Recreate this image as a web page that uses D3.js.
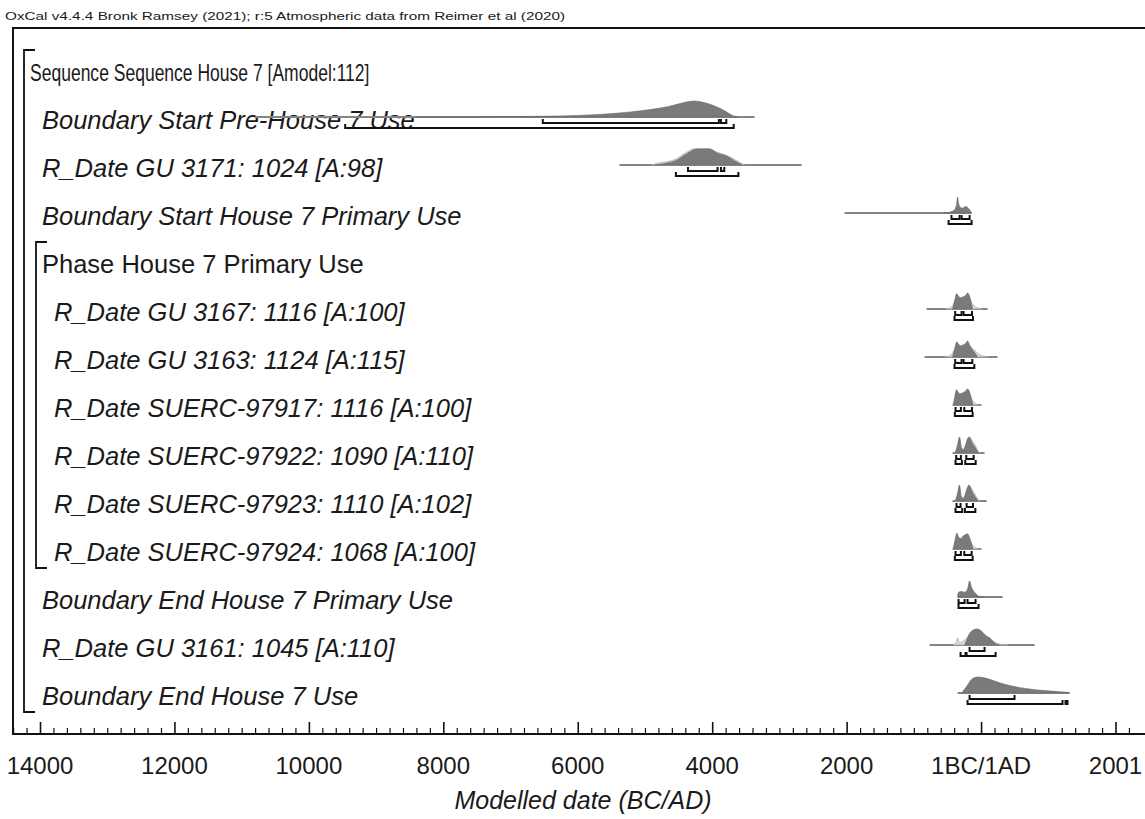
<!DOCTYPE html>
<html>
<head>
<meta charset="utf-8">
<script src="https://cdn.jsdelivr.net/npm/d3@7"></script>
<style>
  body { margin: 0; background: #fff; }
  svg { display: block; }
  text { font-family: "Liberation Sans", Arial, Helvetica, sans-serif; fill: #1a1a1a; }
</style>
</head>
<body>
<svg id="chart" width="1145" height="819"></svg>
<script>
// ---- Model description ----
const header = "OxCal v4.4.4 Bronk Ramsey (2021); r:5 Atmospheric data from Reimer et al (2020)";
const axisTitle = "Modelled date (BC/AD)";

const labels = [
  "Sequence Sequence House 7 [Amodel:112]",
  "Boundary Start Pre-House 7 Use",
  "R_Date GU 3171: 1024 [A:98]",
  "Boundary Start House 7 Primary Use",
  "Phase House 7 Primary Use",
  "R_Date GU 3167: 1116 [A:100]",
  "R_Date GU 3163: 1124 [A:115]",
  "R_Date SUERC-97917: 1116 [A:100]",
  "R_Date SUERC-97922: 1090 [A:110]",
  "R_Date SUERC-97923: 1110 [A:102]",
  "R_Date SUERC-97924: 1068 [A:100]",
  "Boundary End House 7 Primary Use",
  "R_Date GU 3161: 1045 [A:110]",
  "Boundary End House 7 Use"
];
// nesting depth of each row in the model
const levels = [0, 1, 1, 1, 1, 2, 2, 2, 2, 2, 2, 1, 1, 1];
// [header row, last member row] of each grouping (Sequence, Phase)
const groups = [[0, 13], [4, 10]];

// Axis: years, negative = BC, 0 = 1BC/1AD boundary
const tickValues = [-14000, -12000, -10000, -8000, -6000, -4000, -2000, 0, 2000];
const tickLabels = ["14000", "12000", "10000", "8000", "6000", "4000", "2000", "1BC/1AD", "2001"];

// Full extent of each distribution (thin grey line)
const spans = [
  null,
  [-10800, -3370],
  [-5380, -2670],
  [-2030, -141],
  null,
  [-810, 97],
  [-840, 245],
  [-424, 7],
  [-424, 52],
  [-424, 82],
  [-424, 7],
  [-349, 320],
  [-766, 796],
  [-349, 1316]
];

// Unmodelled (likelihood) distributions, [year, relative density]
const likelihoods = [
  null,
  null,
  [[-4900,0],[-4750,0.15],[-4550,0.35],[-4400,0.75],[-4250,1.02],[-4050,1.02],[-3930,0.8],[-3780,0.6],[-3630,0.25],[-3520,0]],
  null,
  null,
  [[-520,0],[-430,0.15],[-380,0.6],[-360,0.75],[-330,0.6],[-290,0.55],[-240,0.65],[-200,0.8],[-160,0.55],[-120,0.25],[-60,0.08],[20,0]],
  [[-540,0],[-440,0.15],[-380,0.55],[-355,0.7],[-320,0.55],[-280,0.5],[-230,0.6],[-195,0.75],[-150,0.6],[-90,0.4],[-40,0.2],[40,0.05],[120,0]],
  [[-420,0],[-380,0.45],[-350,0.6],[-300,0.55],[-220,0.6],[-180,0.6],[-140,0.35],[-100,0.15],[-40,0]],
  [[-390,0],[-345,0.45],[-318,0.9],[-290,0.35],[-255,0.25],[-225,0.5],[-195,0.85],[-165,0.95],[-130,0.75],[-90,0.5],[-50,0.15],[-20,0]],
  [[-390,0],[-345,0.45],[-320,0.9],[-295,0.35],[-258,0.2],[-228,0.5],[-200,0.85],[-172,0.95],[-140,0.75],[-95,0.45],[-50,0.12],[-20,0]],
  [[-420,0],[-385,0.5],[-355,0.75],[-320,0.6],[-270,0.65],[-220,0.7],[-180,0.6],[-140,0.3],[-90,0.1],[-40,0]],
  null,
  [[-420,0],[-370,0.15],[-350,0.45],[-330,0.2],[-290,0.15],[-250,0.3],[-216,0.4],[-171,0.7],[-112,0.92],[-67,0.95],[-22,0.92],[22,0.78],[67,0.58],[127,0.42],[186,0.2],[260,0.08],[400,0]],
  null
];

// Modelled (posterior) distributions, [year, relative density]
const posteriors = [
  null,
  [[-8400,0],[-7200,0.02],[-6300,0.06],[-5700,0.15],[-5250,0.3],[-4950,0.45],[-4650,0.65],[-4420,0.9],[-4270,1],[-4120,0.9],[-3970,0.7],[-3820,0.4],[-3700,0.1],[-3620,0]],
  [[-4855,0],[-4700,0.1],[-4530,0.3],[-4380,0.7],[-4230,1],[-4040,1],[-3930,0.75],[-3780,0.55],[-3640,0.2],[-3550,0]],
  [[-560,0],[-470,0.05],[-395,0.2],[-365,0.5],[-350,1],[-335,0.6],[-305,0.35],[-275,0.3],[-230,0.4],[-200,0.35],[-170,0.2],[-141,0]],
  null,
  [[-424,0],[-394,0.5],[-364,0.95],[-335,0.8],[-305,0.7],[-275,0.75],[-230,0.85],[-201,1],[-171,0.8],[-141,0.3],[-126,0]],
  [[-424,0],[-394,0.5],[-360,0.95],[-335,0.8],[-300,0.7],[-270,0.75],[-230,0.85],[-200,1],[-170,0.75],[-130,0.45],[-80,0.2],[-52,0]],
  [[-410,0],[-390,0.55],[-365,0.95],[-340,0.8],[-310,0.7],[-280,0.75],[-235,0.85],[-200,1],[-170,0.8],[-140,0.35],[-120,0]],
  [[-385,0],[-350,0.5],[-320,1],[-295,0.3],[-260,0.2],[-230,0.5],[-200,0.9],[-171,1],[-141,0.7],[-97,0.4],[-52,0.1],[-37,0]],
  [[-380,0],[-348,0.5],[-322,1],[-298,0.3],[-262,0.15],[-232,0.45],[-205,0.8],[-180,1],[-150,0.75],[-110,0.4],[-60,0.1],[-40,0]],
  [[-410,0],[-385,0.6],[-360,1],[-335,0.75],[-300,0.65],[-270,0.8],[-230,0.9],[-200,0.95],[-170,0.7],[-140,0.3],[-120,0]],
  [[-349,0],[-335,0.3],[-290,0.35],[-245,0.3],[-201,0.5],[-171,1],[-141,0.6],[-97,0.3],[-52,0.1],[-7,0.02],[52,0]],
  [[-245,0],[-216,0.3],[-171,0.7],[-112,0.95],[-67,1],[-22,0.95],[22,0.8],[67,0.6],[127,0.45],[186,0.2],[230,0.05],[275,0]],
  [[-290,0],[-216,0.4],[-141,0.85],[-52,1],[52,0.95],[201,0.75],[350,0.55],[498,0.4],[721,0.25],[944,0.15],[1167,0.08],[1286,0.03],[1316,0]]
];

// Highest posterior density ranges
const ranges68 = [
  null,
  [[-6520,-3900],[-3870,-3790]],
  [[-4360,-3920],[-3870,-3820]],
  [[-440,-320],[-290,-170]],
  null,
  [[-385,-290],[-260,-135]],
  [[-385,-290],[-260,-130]],
  [[-380,-300],[-250,-135]],
  [[-370,-300],[-220,-110]],
  [[-365,-305],[-215,-120]],
  [[-380,-300],[-250,-140]],
  [[-335,-245],[-201,-82]],
  [[-171,52]],
  [[-171,498]]
];
const ranges95 = [
  null,
  [[-9460,-3680]],
  [[-4540,-3610]],
  [[-483,-141]],
  null,
  [[-395,-120]],
  [[-395,-100]],
  [[-390,-125]],
  [[-380,-285],[-235,-80]],
  [[-380,-280],[-240,-85]],
  [[-390,-125]],
  [[-335,-37]],
  [[-305,-230],[-216,216]],
  [[-201,1212],[1256,1286]]
];

// ---- Layout ----
const W = 1145, H = 819;
const svg = d3.select("#chart");
const frame = { left: 13, top: 28, bottom: 734 };
const rowStep = 48, firstBaseline = 81;
const indent = [30, 42, 54];

const x = d3.scaleLinear().domain([-14000, 2000]).range([40, 1115.5]);
const rowY = i => firstBaseline + i * rowStep;          // text baseline
const distY = i => rowY(i) - 12;                        // distribution baseline
const hScale = d3.scaleLinear().domain([0, 1]).range([0, 16]);

// header
svg.append("text")
  .attr("x", 5).attr("y", 20)
  .attr("font-size", 11.5)
  .attr("textLength", 560).attr("lengthAdjust", "spacingAndGlyphs")
  .text(header);

// frame
svg.append("path")
  .attr("d", `M${W + 10},${frame.top} H${frame.left} V${frame.bottom} H${W + 10}`)
  .attr("fill", "none").attr("stroke", "#111").attr("stroke-width", 2);

// row labels: the model heading is set condensed, all other rows full width
svg.append("g").selectAll("text").data(labels).join("text")
  .attr("transform", (d, i) => levels[i] === 0
    ? `translate(${indent[0]},${rowY(i)}) scale(0.73,1)`
    : `translate(${indent[levels[i]]},${rowY(i)})`)
  .attr("font-size", (d, i) => levels[i] === 0 ? 24 : 25.5)
  .attr("font-style", d => /^(Sequence|Phase)/.test(d) ? "normal" : "italic")
  .text(d => d);

// grouping brackets
const gb = svg.append("g").attr("fill", "none").attr("stroke", "#111").attr("stroke-width", 1.8);
groups.forEach(([a, b]) => {
  const bx = indent[levels[a]] - 6;
  const y0 = rowY(a) - 31, y1 = rowY(b) + 7;
  gb.append("path").attr("d", `M${bx + 11},${y0} H${bx} V${y1} H${bx + 11}`);
});

// distributions
const area = d3.area()
  .x(d => x(d[0]))
  .curve(d3.curveMonotoneX);
const dg = svg.append("g");
labels.forEach((lab, i) => {
  if (!spans[i]) return;
  const base = distY(i);
  area.y0(base).y1(d => base - hScale(d[1]));
  dg.append("line")
    .attr("x1", x(spans[i][0])).attr("x2", x(spans[i][1]))
    .attr("y1", base).attr("y2", base)
    .attr("stroke", "#858585").attr("stroke-width", 1.8);
  if (likelihoods[i]) {
    dg.append("path").datum(likelihoods[i]).attr("d", area)
      .attr("fill", "#dcdcdc").attr("stroke", "#a8a8a8").attr("stroke-width", 0.8);
  }
  dg.append("path").datum(posteriors[i]).attr("d", area)
    .attr("fill", "#7a7a7a").attr("stroke", "#6a6a6a").attr("stroke-width", 0.6);

  const bracket = (r, y) => `M${x(r[0])},${y - 4} V${y} H${x(r[1])} V${y - 4}`;
  ranges68[i].forEach(r => dg.append("path").attr("d", bracket(r, base + 6))
    .attr("fill", "none").attr("stroke", "#111").attr("stroke-width", 2));
  ranges95[i].forEach(r => dg.append("path").attr("d", bracket(r, base + 11))
    .attr("fill", "none").attr("stroke", "#111").attr("stroke-width", 2));
});

// x axis: major ticks with labels, minor ticks every 200 years
const minor = d3.range(-14400, 2201, 200).filter(v => v % 2000 !== 0);
const gx = svg.append("g").attr("transform", `translate(0,${frame.bottom})`);
gx.append("g")
  .call(d3.axisTop(x).tickValues(minor).tickSize(6).tickFormat(""))
  .call(g => g.select(".domain").remove())
  .call(g => g.selectAll("line").attr("stroke", "#111").attr("stroke-width", 1.2));
gx.append("g")
  .call(d3.axisTop(x).tickValues(tickValues).tickSize(12).tickFormat(""))
  .call(g => g.select(".domain").remove())
  .call(g => g.selectAll("line").attr("stroke", "#111").attr("stroke-width", 1.6));
gx.selectAll(".tick-label").data(tickValues).join("text")
  .attr("class", "tick-label")
  .attr("text-anchor", "middle")
  .attr("font-size", 24)
  .attr("x", d => x(d)).attr("y", 40)
  .text((d, i) => tickLabels[i]);

svg.append("text")
  .attr("text-anchor", "middle")
  .attr("font-size", 25).attr("font-style", "italic")
  .attr("x", 583).attr("y", 809)
  .text(axisTitle);
</script>
</body>
</html>
